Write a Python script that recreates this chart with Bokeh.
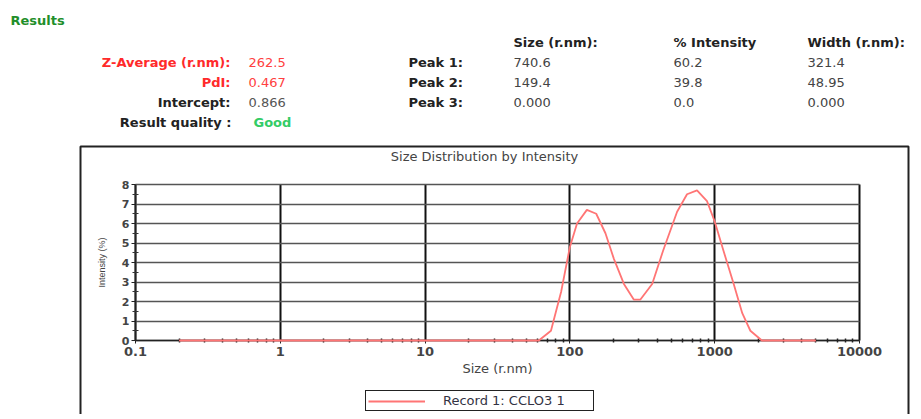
from bokeh.plotting import figure
from bokeh.models import (Range1d, FixedTicker, CustomJSTickFormatter, Label,
                          BoxAnnotation, Legend, LegendItem)
from bokeh.embed import file_html
from bokeh.resources import INLINE

# ---- data ----
size_nm = [0.2, 61, 74, 87, 100, 112, 131, 152, 176, 201, 236, 276, 307, 370,
           440, 550, 644, 755, 885, 1000, 1150, 1353, 1550, 1763, 2118, 5000]
intensity = [0.0, 0.0, 0.5, 2.5, 4.8, 6.0, 6.7, 6.5, 5.5, 4.2, 2.9, 2.1, 2.1, 2.9,
             4.6, 6.6, 7.5, 7.7, 7.15, 6.1, 4.6, 2.9, 1.4, 0.5, 0.0, 0.0]

x_ticks = [0.1, 1, 10, 100, 1000, 10000]
x_minor = [m * d for d in [0.1, 1, 10, 100, 1000] for m in range(2, 10)]
y_ticks = [0, 1, 2, 3, 4, 5, 6, 7, 8]
y_minor = [0.5, 1.5, 2.5, 3.5, 4.5, 5.5, 6.5, 7.5]

summary_labels = ["Z-Average (r.nm):", "PdI:", "Intercept:"]
summary_values = ["262.5", "0.467", "0.866"]
quality_label = "Result quality :"
quality = "Good"
peak_names = ["Peak 1:", "Peak 2:", "Peak 3:"]
peak_headers = ["Size (r.nm):", "% Intensity", "Width (r.nm):"]
peak_size = ["740.6", "149.4", "0.000"]
peak_int = ["60.2", "39.8", "0.0"]
peak_width = ["321.4", "48.95", "0.000"]
record_name = "Record 1: CCLO3 1"
chart_title = "Size Distribution by Intensity"

FONT = "DejaVu Sans"
W, H = 914, 414
# pixel positions of the plot area (x: 0.1 and 10000, y: 0 and 8)
PX0, PX1 = 135, 859
PY0, PY8 = 340, 184
dec = (PX1 - PX0) / 5.0
upu = (PY0 - PY8) / 8.0
x_start = 10 ** (-1 - PX0 / dec)
x_end = 10 ** (4 + (W - PX1) / dec)
y_start = -(H - PY0) / upu
y_end = 8 + PY8 / upu

p = figure(width=W, height=H, x_axis_type="log", output_backend="svg",
           toolbar_location=None, title=None,
           x_range=Range1d(x_start, x_end), y_range=Range1d(y_start, y_end),
           min_border_left=0, min_border_right=0,
           min_border_top=0, min_border_bottom=0)
p.background_fill_color = "white"
p.border_fill_color = "white"
p.outline_line_color = None

# axes placed at the plot-area edges
xa = p.xaxis[0]
xa.fixed_location = 0
xa.bounds = (0.1, 10000)
xa.ticker = FixedTicker(ticks=x_ticks, minor_ticks=x_minor)
xa.formatter = CustomJSTickFormatter(code="return String(tick);")
xa.axis_line_color = "#222222"
xa.axis_line_width = 1.5
xa.major_tick_in = 0
xa.major_tick_out = 3
xa.major_tick_line_color = "#222222"
xa.minor_tick_in = 2
xa.minor_tick_out = 2
xa.minor_tick_line_width = 1.5
xa.minor_tick_line_color = "#222222"
xa.major_label_text_font = FONT
xa.major_label_text_font_style = "bold"
xa.major_label_text_font_size = "13px"
xa.major_label_text_color = "#444444"
xa.major_label_standoff = 3
xa.axis_label = "Size (r.nm)"
xa.axis_label_text_font = FONT
xa.axis_label_text_font_style = "normal"
xa.axis_label_text_font_size = "13px"
xa.axis_label_text_color = "#444444"
xa.axis_label_standoff = 2

ya = p.yaxis[0]
ya.fixed_location = 0.1
ya.bounds = (0, 8)
ya.ticker = FixedTicker(ticks=y_ticks, minor_ticks=y_minor)
ya.axis_line_color = "#222222"
ya.axis_line_width = 1.5
ya.major_tick_in = 0
ya.major_tick_out = 4
ya.major_tick_line_color = "#222222"
ya.minor_tick_in = 3
ya.minor_tick_out = 3
ya.minor_tick_line_color = "#333333"
ya.major_label_text_font = FONT
ya.major_label_text_font_style = "bold"
ya.major_label_text_font_size = "11px"
ya.major_label_text_color = "#444444"
ya.major_label_standoff = 2
ya.axis_label = "Intensity (%)"
ya.axis_label_text_font = "Liberation Sans"
ya.axis_label_text_font_style = "normal"
ya.axis_label_text_font_size = "9px"
ya.axis_label_text_color = "#444444"
ya.axis_label_standoff = 12

p.xgrid.grid_line_color = "#111111"
p.xgrid.grid_line_width = 2
p.xgrid.bounds = (0.1, 10000)
p.xgrid.cross_bounds = (0, 8)
p.ygrid.grid_line_color = "#555555"
p.ygrid.grid_line_width = 1.5
p.ygrid.bounds = (0, 8)
p.ygrid.cross_bounds = (0.1, 10000)

r = p.line(size_nm, intensity, line_color="#ff7575", line_width=1.8)
r.level = "overlay"

legend = Legend(items=[LegendItem(label=record_name, renderers=[r])],
                location=(365, H - 411), orientation="horizontal",
                border_line_color="#222222", border_line_width=1.2,
                border_line_alpha=1.0,
                background_fill_color="white", background_fill_alpha=1,
                padding=2, margin=0, spacing=0,
                glyph_width=57, glyph_height=10, label_standoff=18,
                label_width=148, label_height=10,
                label_text_font=FONT, label_text_font_size="13px",
                label_text_color="#333344")
p.add_layout(legend, "center")

# outer box around the chart
p.add_layout(BoxAnnotation(left=80, right=908, top=H - 146, bottom=-50,
                           left_units="screen", right_units="screen",
                           top_units="screen", bottom_units="screen",
                           fill_alpha=0, line_color="#222222", line_alpha=1.0,
                           line_width=2, level="underlay"))

def lab(px, py, text, color="#222222", bold=False, align="left", size="13px", font=FONT):
    p.add_layout(Label(x=px, y=H - py, x_units="screen", y_units="screen", text=text,
                       text_color=color, text_align=align, text_baseline="middle",
                       text_font=font, text_font_size=size,
                       text_font_style="bold" if bold else "normal"))

lab(10, 20, "Results", color="#1f8f2a", bold=True)
lab(484, 156, chart_title, color="#444444", align="center")

rows_y = [62, 82, 102]
lab_colors = ["#ff2a2a", "#ff2a2a", "#222222"]
val_colors = ["#ff4040", "#ff4040", "#555555"]
for yy, t, v, lc, vc in zip(rows_y, summary_labels, summary_values, lab_colors, val_colors):
    lab(230, yy, t, color=lc, bold=True, align="right")
    lab(248, yy, v, color=vc)
lab(231, 122, quality_label, color="#222222", bold=True, align="right")
lab(253, 122, quality, color="#33cc66", bold=True)

col_x = [513, 673, 807]
for cx, h in zip(col_x, peak_headers):
    lab(cx, 42, h, color="#222222", bold=True)
for yy, n, a, b, c in zip(rows_y, peak_names, peak_size, peak_int, peak_width):
    lab(408, yy, n, color="#222222", bold=True)
    lab(col_x[0], yy, a, color="#444444")
    lab(col_x[1], yy, b, color="#444444")
    lab(col_x[2], yy, c, color="#444444")

open("out.html", "w").write(file_html(p, INLINE))
